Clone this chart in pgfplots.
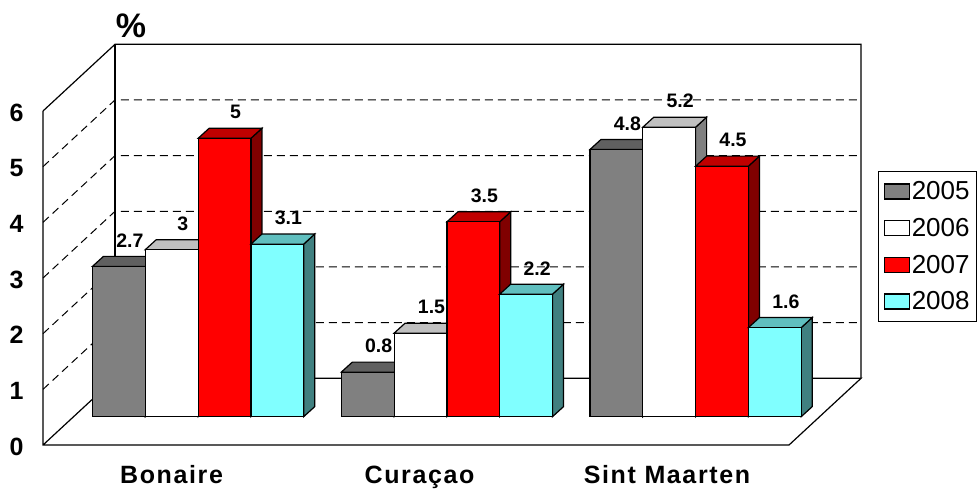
\documentclass[border=0pt]{standalone}
\usepackage{fontspec}
\setmainfont{Liberation Sans}
\newfontfamily\catfont[LetterSpace=6.5]{Liberation Sans}
\usepackage{pgfplots}
\pgfplotsset{compat=1.18}

\definecolor{greyfront}{HTML}{808080}
\definecolor{greytop}{HTML}{606060}
\definecolor{greyside}{HTML}{404040}
\definecolor{whitefront}{HTML}{FFFFFF}
\definecolor{whitetop}{HTML}{C0C0C0}
\definecolor{whiteside}{HTML}{808080}
\definecolor{redfront}{HTML}{FF0000}
\definecolor{redtop}{HTML}{C00000}
\definecolor{redside}{HTML}{800000}
\definecolor{cyanfront}{HTML}{80FFFF}
\definecolor{cyantop}{HTML}{60BFBF}
\definecolor{cyanside}{HTML}{408080}

% common frame: 1 x unit = 1 pixel of the reference
\pgfplotsset{
  pixelaxis/.style={
    at={(0pt,0pt)}, anchor=south west,
    scale only axis, width=980pt, height=489pt,
    xmin=0, xmax=980, clip=false,
  },
}

% top and right side of a bar: centre x, value, colours
\newcommand{\barfaces}[4]{%
  \pgfmathsetmacro{\xa}{#1-26.4}%
  \pgfmathsetmacro{\xb}{#1+26.4}%
  \pgfmathsetmacro{\xc}{#1-15.4}%
  \pgfmathsetmacro{\xd}{#1+37.4}%
  \pgfmathsetmacro{\yt}{#2+0.18}%
  \addplot[fill=#4, draw=black, line width=1.2pt, forget plot]
    coordinates {(\xb,0) (\xd,0.18) (\xd,\yt) (\xb,#2)} --cycle;
  \addplot[fill=#3, draw=black, line width=1.2pt, forget plot]
    coordinates {(\xa,#2) (\xc,\yt) (\xd,\yt) (\xb,#2)} --cycle;
}

% front face of all bars of one year, with its value labels
\pgfplotsset{
  frontbars/.style={
    ybar, bar width=52.8pt, bar shift=0pt,
    fill=#1, draw=black, line width=1.2pt,
    legend image code/.code={
      \draw[fill=#1, draw=black, line width=1.2pt] (0pt,-7.5pt) rectangle (25pt,7.5pt);
    },
    nodes near coords,
    every node near coord/.append style={
      anchor=center, xshift=11pt, yshift=26pt, text=black,
      font=\bfseries\fontsize{19.5}{19.5}\selectfont,
    },
  },
}

\begin{document}
\begin{tikzpicture}
\useasboundingbox (0pt,0pt) rectangle (980pt,489pt);

% walls, floor and value axis
\begin{axis}[
    pixelaxis,
    ymin=-0.790, ymax=7.994,
    axis line style={draw=none},
    tick style={draw=none},
    ytick={0,1,2,3,4,5,6},
    xtick={171.5,419.5,667},
    xticklabels={Bonaire,Curaçao,Sint Maarten},
    /pgf/number format/assume math mode=true,
    yticklabel style={anchor=center, xshift=16.5pt, yshift=-1.5pt,
      font=\bfseries\fontsize{25}{25}\selectfont},
    xticklabel style={anchor=base, yshift=5pt,
      font=\catfont\bfseries\fontsize{25}{25}\selectfont},
    ylabel={\%},
    every axis y label/.style={
      at={(axis cs:131,7.53)}, anchor=center,
      font=\bfseries\fontsize{34}{34}\selectfont,
    },
]
\addplot[black, line width=1.2pt] coordinates {(43,6) (43,0) (789,0) (861,1.198) (115,1.198) (43,0)};
\addplot[black, line width=1.2pt] coordinates {(43,6) (115,7.198) (861,7.198) (861,1.198)};
\addplot[black, line width=1.2pt] coordinates {(115,7.198) (115,1.198)};
\addplot[black, line width=1pt, dash pattern=on 8pt off 5pt] coordinates {(43,1) (115,2.198) (861,2.198)};
\addplot[black, line width=1pt, dash pattern=on 8pt off 5pt] coordinates {(43,2) (115,3.198) (861,3.198)};
\addplot[black, line width=1pt, dash pattern=on 8pt off 5pt] coordinates {(43,3) (115,4.198) (861,4.198)};
\addplot[black, line width=1pt, dash pattern=on 8pt off 5pt] coordinates {(43,4) (115,5.198) (861,5.198)};
\addplot[black, line width=1pt, dash pattern=on 8pt off 5pt] coordinates {(43,5) (115,6.198) (861,6.198)};
\end{axis}

% bars, series by series so that each bar covers the side of the one before
\begin{axis}[
    pixelaxis,
    ymin=-1.299, ymax=7.485,
    hide axis,
    /pgf/number format/assume math mode=true,
    legend style={
      at={(0.896,0.650)}, anchor=north west,
      draw=black, line width=1pt, fill=white,
      font=\fontsize{26}{26}\selectfont,
      row sep=13pt, inner xsep=5pt, inner ysep=8pt,
    },
    legend cell align=left,
]
\barfaces{118.9}{2.7}{greytop}{greyside}
\barfaces{367.7}{0.8}{greytop}{greyside}
\barfaces{616.4}{4.8}{greytop}{greyside}
\addplot[frontbars=greyfront] coordinates {(118.9,2.7) (367.7,0.8) (616.4,4.8)};
\addlegendentry{2005\hspace{4pt}}

\barfaces{171.7}{3}{whitetop}{whiteside}
\barfaces{420.5}{1.5}{whitetop}{whiteside}
\barfaces{669.2}{5.2}{whitetop}{whiteside}
\addplot[frontbars=whitefront] coordinates {(171.7,3) (420.5,1.5) (669.2,5.2)};
\addlegendentry{2006\hspace{4pt}}

\barfaces{224.5}{5}{redtop}{redside}
\barfaces{473.3}{3.5}{redtop}{redside}
\barfaces{722}{4.5}{redtop}{redside}
\addplot[frontbars=redfront] coordinates {(224.5,5) (473.3,3.5) (722,4.5)};
\addlegendentry{2007\hspace{4pt}}

\barfaces{277.3}{3.1}{cyantop}{cyanside}
\barfaces{526.1}{2.2}{cyantop}{cyanside}
\barfaces{774.8}{1.6}{cyantop}{cyanside}
\addplot[frontbars=cyanfront] coordinates {(277.3,3.1) (526.1,2.2) (774.8,1.6)};
\addlegendentry{2008\hspace{4pt}}
\end{axis}
\end{tikzpicture}
\end{document}
